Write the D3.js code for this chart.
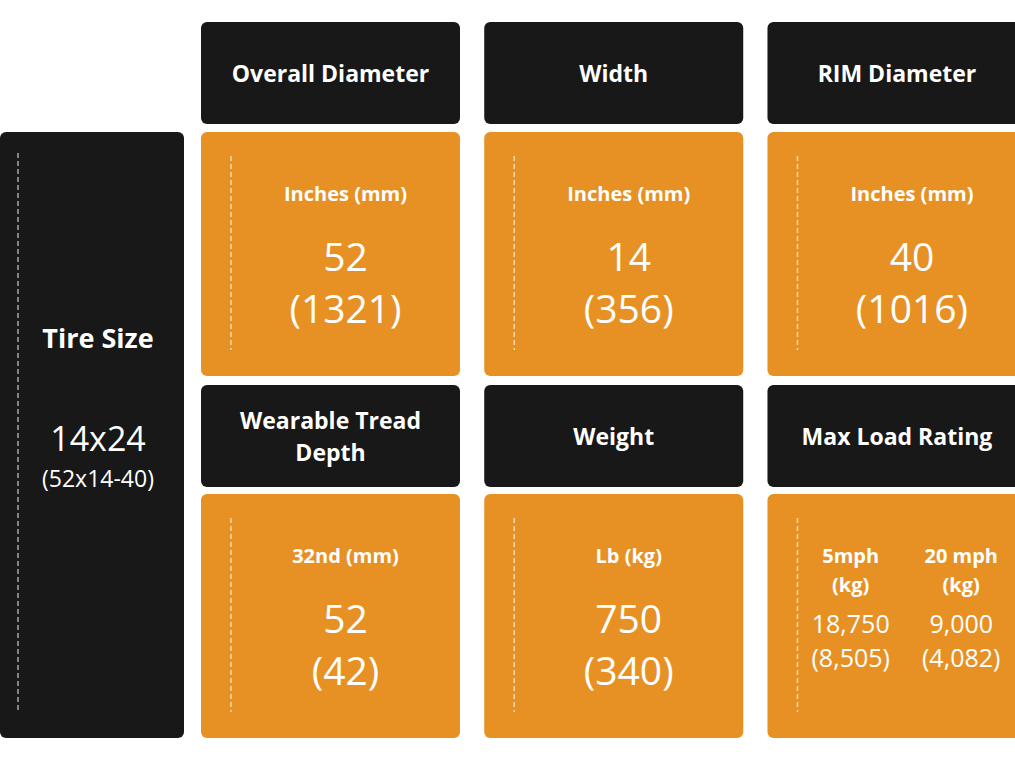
<!DOCTYPE html>
<html><head><meta charset="utf-8">
<script src="https://cdn.jsdelivr.net/npm/d3@7"></script>
<style>body{margin:0;background:#fff}text{font-family:"Open Sans",sans-serif;fill:#fff}</style>
</head><body><svg id="c" width="1015" height="761"></svg>
<script>
var headers = ["Overall Diameter","Width","RIM Diameter","Wearable Tread|Depth","Weight","Max Load Rating"];
var units = ["Inches (mm)","Inches (mm)","Inches (mm)","32nd (mm)","Lb (kg)",null];
var values = [["52","(1321)"],["14","(356)"],["40","(1016)"],["52","(42)"],["750","(340)"],null];
var loadUnits = ["5mph|(kg)","20 mph|(kg)"];
var loadValues = [["18,750","(8,505)"],["9,000","(4,082)"]];
var tireLabel = "Tire Size", tireSize = "14x24", tireSub = "(52x14-40)";

var dark = "#181818", orange = "#E79124";
var svg = d3.select("#c");
var x = d3.scaleBand().domain([0,1,2]).range([201,1033]).paddingInner(0.0625);
// each row block: header (102) + gap + cell (244)
var rowTop = [22, 385], headH = 102, cellTop = [132, 494], cellH = 244;
var w = 259;

svg.append("rect").attr("x",0).attr("y",132).attr("width",184).attr("height",606).attr("rx",6).attr("fill",dark);
svg.append("line").attr("x1",18).attr("x2",18).attr("y1",153).attr("y2",712)
  .attr("stroke","#aaa").attr("stroke-width",1.5).attr("stroke-dasharray","5,3");
svg.append("text").attr("x",98).attr("y",348).attr("text-anchor","middle").attr("font-size",27).attr("font-weight",700).text(tireLabel);
svg.append("text").attr("x",98).attr("y",451).attr("text-anchor","middle").attr("font-size",34).text(tireSize);
svg.append("text").attr("x",98).attr("y",487).attr("text-anchor","middle").attr("font-size",23).text(tireSub);

headers.forEach(function(h,i){
  var r = Math.floor(i/3), c = i%3, x0 = x(c);
  svg.append("rect").attr("x",x0).attr("y",rowTop[r]).attr("width",w).attr("height",headH).attr("rx",6).attr("fill",dark);
  var lines = h.split("|");
  lines.forEach(function(l,k){
    svg.append("text").attr("x",x0+w/2).attr("y",rowTop[r]+headH/2+9+(k-(lines.length-1)/2)*32)
      .attr("text-anchor","middle").attr("font-size",23).attr("font-weight",700).text(l);
  });
  var ct = cellTop[r];
  svg.append("rect").attr("x",x0).attr("y",ct).attr("width",w).attr("height",cellH).attr("rx",6).attr("fill",orange);
  svg.append("line").attr("x1",x0+30).attr("x2",x0+30).attr("y1",ct+24).attr("y2",ct+218)
    .attr("stroke","#f5d9a8").attr("stroke-width",1.5).attr("stroke-dasharray","5,3");
  var cx = x0+30+(w-30)/2;
  if (units[i]) {
    svg.append("text").attr("x",cx).attr("y",ct+69).attr("text-anchor","middle").attr("font-size",20).attr("font-weight",700).text(units[i]);
    values[i].forEach(function(v,k){
      svg.append("text").attr("x",cx).attr("y",ct+139+k*52).attr("text-anchor","middle").attr("font-size",39).text(v);
    });
  } else {
    var sub = d3.scaleBand().domain([0,1]).range([x0+30,x0+w]);
    loadUnits.forEach(function(u,j){
      var sx = sub(j)+sub.bandwidth()/2 - (j?8:4);
      u.split("|").forEach(function(l,k){
        svg.append("text").attr("x",sx).attr("y",ct+69+k*29).attr("text-anchor","middle").attr("font-size",20).attr("font-weight",700).text(l);
      });
      loadValues[j].forEach(function(v,k){
        svg.append("text").attr("x",sx).attr("y",ct+139+k*34).attr("text-anchor","middle").attr("font-size",25).text(v);
      });
    });
  }
});
</script></body></html>
